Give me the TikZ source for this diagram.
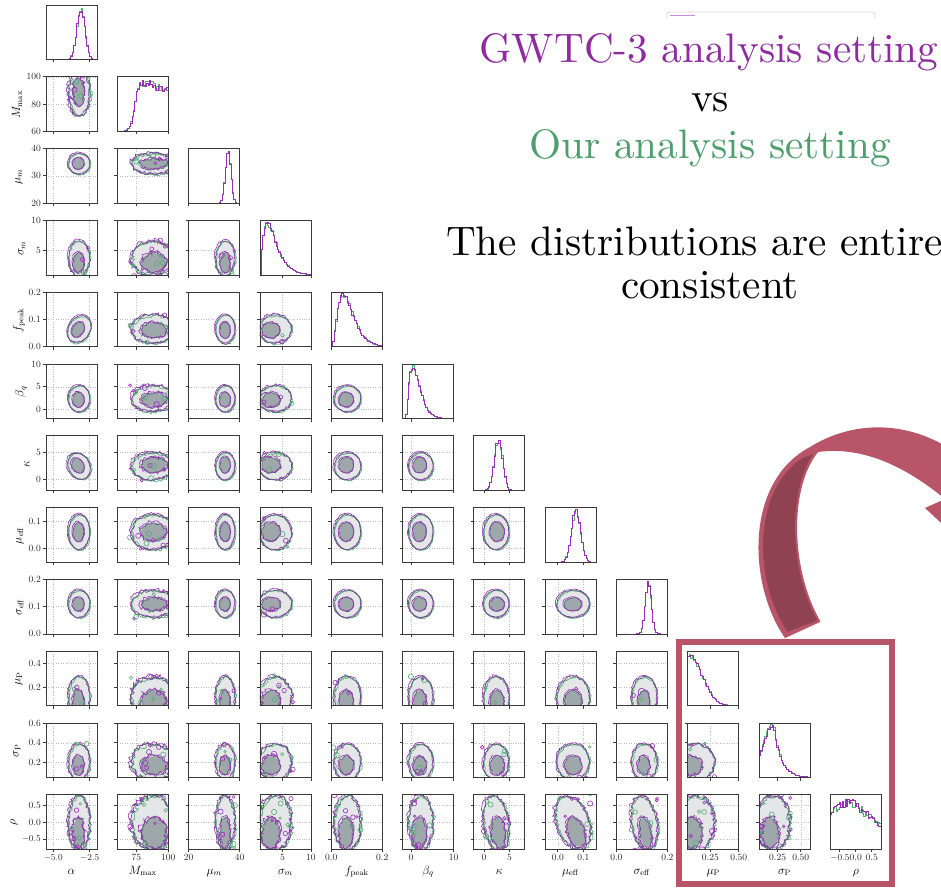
\documentclass[tikz,border=0pt]{standalone}
\usetikzlibrary{decorations.pathmorphing}
\definecolor{pur}{HTML}{9B30B8}
\definecolor{grn}{HTML}{55AD75}
\definecolor{lfill}{HTML}{E4E6E8}
\definecolor{dfill}{HTML}{9EA8AB}
\definecolor{dline}{HTML}{4F6272}
\definecolor{framec}{HTML}{3A3A3A}
\definecolor{gridc}{HTML}{BDBDBD}
\definecolor{titlep}{HTML}{8E2C9F}
\definecolor{titleg}{HTML}{4E9E6E}
\definecolor{ribbon}{HTML}{B85568}
\definecolor{ribbond}{HTML}{8F4352}
\definecolor{boxc}{HTML}{B95468}

\def\Carr{{0.65,0.70,0.72,0.30,0.32,0.36,0.44,0.55,0.55,0.15,0.28,0.48}}
\def\Warr{{0.21,0.42,0.19,0.32,0.26,0.24,0.25,0.32,0.25,0.38,0.33,0.50}}
\def\CIarr{{0.64,0.72,0.72,0.22,0.30,0.34,0.46,0.55,0.54,0.08,0.22,0.30}}
\def\WIarr{{0.11,0.25,0.10,0.18,0.14,0.13,0.14,0.17,0.12,0.20,0.17,0.28}}
\def\Narr{{0,2,0,1,0,0,0,0,0,1,1,2}}

\expandafter\def\csname ang@0@4\endcsname{-30}
\expandafter\def\csname ang@0@6\endcsname{30}
\expandafter\def\csname ang@7@11\endcsname{20}
\expandafter\def\csname ang@8@11\endcsname{10}
\expandafter\def\csname ang@6@11\endcsname{8}
\newcommand\getang[2]{\ifcsname ang@#1@#2\endcsname\edef\ang{\csname ang@#1@#2\endcsname}\else\def\ang{0}\fi}

\expandafter\def\csname xt0\endcsname{0.143/{$-5.0$},0.857/{$-2.5$}}
\expandafter\def\csname xt1\endcsname{0.375/75,1/100}
\expandafter\def\csname xt2\endcsname{0/20,1/40}
\expandafter\def\csname xt3\endcsname{0.444/5,1/10}
\expandafter\def\csname xt4\endcsname{0/0.0,1/0.2}
\expandafter\def\csname xt5\endcsname{0.167/0,1/10}
\expandafter\def\csname xt6\endcsname{0.2/0,0.7/5}
\expandafter\def\csname xt7\endcsname{0.25/0.0,0.75/0.1}
\expandafter\def\csname xt8\endcsname{0/0.0,1/0.2}
\expandafter\def\csname xt9\endcsname{0.444/0.25,1/0.50}
\expandafter\def\csname xt10\endcsname{0.364/0.25,0.818/0.50}
\expandafter\def\csname xt11\endcsname{0.1875/{$-0.5$},0.5/0.0,0.8125/0.5}
\expandafter\def\csname yt1\endcsname{0/60,0.5/80,1/100}
\expandafter\def\csname yt2\endcsname{0/20,0.5/30,1/40}
\expandafter\def\csname yt3\endcsname{0.444/5,1/10}
\expandafter\def\csname yt4\endcsname{0/0.0,0.5/0.1,1/0.2}
\expandafter\def\csname yt5\endcsname{0.167/0,0.583/5,1/10}
\expandafter\def\csname yt6\endcsname{0.2/0,0.7/5}
\expandafter\def\csname yt7\endcsname{0.25/0.0,0.75/0.1}
\expandafter\def\csname yt8\endcsname{0/0.0,0.5/0.1,1/0.2}
\expandafter\def\csname yt9\endcsname{0.333/0.2,0.778/0.4}
\expandafter\def\csname yt10\endcsname{0.273/0.2,0.636/0.4,1/0.6}
\expandafter\def\csname yt11\endcsname{0.1875/{$-0.5$},0.5/0.0,0.8125/0.5}

\tikzset{
  gridl/.style={gridc, line width=0.45pt, dotted},
  framel/.style={framec, line width=0.8pt},
  cont/.style={line width=0.65pt, decorate, decoration={random steps, segment length=2pt, amplitude=\amp pt}},
  histl/.style={line width=0.7pt},
  ticklab/.style={font=\fontsize{9.5}{10}\selectfont, inner sep=0.5pt, text=black!85},
  axlab/.style={font=\fontsize{12}{12}\selectfont, inner sep=0pt},
  bigtxt/.style={anchor=base, inner sep=0pt}
}
\newcommand\bigtext[1]{\scalebox{4.12}{\fontsize{10}{12}\selectfont #1}}

\newcommand\twod[2]{%
\pgfmathsetmacro\cx{\Carr[#1]}%
\pgfmathsetmacro\cy{\Carr[#2]}%
\pgfmathsetmacro\wx{\Warr[#1]}%
\pgfmathsetmacro\wy{\Warr[#2]}%
\pgfmathsetmacro\cix{\CIarr[#1]}%
\pgfmathsetmacro\ciy{\CIarr[#2]}%
\pgfmathsetmacro\wix{\WIarr[#1]}%
\pgfmathsetmacro\wiy{\WIarr[#2]}%
\pgfmathtruncatemacro\nz{\Narr[#1]+\Narr[#2]}%
\pgfmathsetmacro\amp{0.5+0.55*\nz}%
\pgfmathtruncatemacro\nisl{4*\nz}%
\getang{#1}{#2}%
\expandafter\let\expandafter\xtl\csname xt#1\endcsname
\expandafter\let\expandafter\ytl\csname yt#2\endcsname
\begin{scope}[shift={({46+71.3*#1},{59.5+71.8*#2})},x=51pt,y=54.5pt]
 \begin{scope}
  \clip (0,0) rectangle (1,1);
  \foreach \p/\l in \xtl {\draw[gridl] (\p,0) -- (\p,1);}
  \foreach \p/\l in \ytl {\draw[gridl] (0,\p) -- (1,\p);}
  \fill[lfill, rotate around={\ang:(\cx,\cy)}] (\cx,\cy) ellipse [x radius=\wx, y radius=\wy];
  \draw[grn, cont, rotate around={\ang:(\cx,\cy)}] ({\cx+0.015},{\cy-0.012}) ellipse [x radius=\wx, y radius=\wy];
  \draw[pur, cont, rotate around={\ang:(\cx,\cy)}] ({\cx-0.012},{\cy+0.015}) ellipse [x radius={\wx*1.03}, y radius={\wy*1.02}];
  \draw[dline, cont, rotate around={\ang:(\cx,\cy)}] (\cx,\cy) ellipse [x radius=\wx, y radius=\wy];
  \fill[dfill, rotate around={\ang:(\cx,\cy)}] (\cix,\ciy) ellipse [x radius=\wix, y radius=\wiy];
  \draw[dline, cont, rotate around={\ang:(\cx,\cy)}] (\cix,\ciy) ellipse [x radius=\wix, y radius=\wiy];
  \draw[pur, cont, rotate around={\ang:(\cx,\cy)}] ({\cix-0.012},{\ciy+0.012}) ellipse [x radius={\wix*1.05}, y radius={\wiy*1.04}];
  \ifnum\nisl>0
   \foreach \k in {1,...,\nisl}{%
     \pgfmathsetmacro\px{\cx+1.1*\wx*rand}%
     \pgfmathsetmacro\py{\cy+1.1*\wy*rand}%
     \pgfmathsetmacro\pr{1.2+1.6*rnd}%
     \ifodd\k \def\ic{pur}\else\def\ic{grn}\fi
     \draw[color=\ic, line width=0.6pt] (\px,\py) circle [radius=\pr pt];
   }%
  \fi
 \end{scope}
 \draw[framel] (0,0) rectangle (1,1);
 \foreach \p/\l in \xtl {\draw[framel] (\p,0) -- ++(0pt,-3pt);}
 \foreach \p/\l in \ytl {\draw[framel] (0,\p) -- ++(-3pt,0pt);}
 \ifnum#2=11 \foreach \p/\l in \xtl {\node[ticklab, anchor=north] at ([yshift=-4.5pt]\p,0) {\l};}\fi
 \ifnum#1=0 \foreach \p/\l in \ytl {\node[ticklab, anchor=east] at ([xshift=-4.5pt]0,\p) {\l};}\fi
\end{scope}}

\newcommand\diagp[3]{%
\expandafter\let\expandafter\xtl\csname xt#1\endcsname
\begin{scope}[shift={({46+71.3*#1},{59.5+71.8*#1})},x=51pt,y=54.5pt]
 \begin{scope}
  \clip (0,0) rectangle (1,1);
  \draw[grn, histl] plot[const plot, domain=0:1, samples=36] (\x,{min(0.97,max(0,(#2)*(1+#3*rand)))});
  \draw[pur, histl] plot[const plot, domain=0:1, samples=36] (\x,{min(0.97,max(0,(#2)*(1+#3*rand)))});
 \end{scope}
 \draw[framel] (0,0) rectangle (1,1);
 \foreach \p/\l in \xtl {\draw[framel] (\p,0) -- ++(0pt,-3pt);}
 \ifnum#1=11 \foreach \p/\l in \xtl {\node[ticklab, anchor=north] at ([yshift=-4.5pt]\p,0) {\l};}\fi
\end{scope}}

\begin{document}
\begin{tikzpicture}[x=1pt,y=-1pt]
\useasboundingbox (0,0) rectangle (941,888);
\clip (0,0) rectangle (941,888);
\fill[white] (0,0) rectangle (941,888);
\pgfmathsetseed{4242}

% off-diagonal panels
\foreach \j in {1,...,11}{%
  \pgfmathtruncatemacro\jm{\j-1}%
  \foreach \i in {0,...,\jm}{\twod{\i}{\j}}%
}

% diagonal histograms
\diagp{0}{0.93*exp(-((\x-0.67)^2)/(2*0.08^2))}{0.06}
\diagp{1}{0.95/(1+exp(-(\x-0.33)/0.045))*(1.1-0.3*\x)}{0.1}
\diagp{2}{0.93*exp(-((\x-0.76)^2)/(2*0.055^2))}{0.06}
\diagp{3}{0.95*(\x/0.13)*exp(1-\x/0.13)}{0.06}
\diagp{4}{0.95*((\x/0.22)^2)*exp(2-2*\x/0.22)}{0.06}
\diagp{5}{0.95*((max(\x-0.04,0)/0.15)^2)*exp(2-2*max(\x-0.04,0)/0.15)}{0.06}
\diagp{6}{0.93*exp(-((\x-0.47)^2)/(2*0.08^2))}{0.06}
\diagp{7}{0.93*exp(-((\x-0.59)^2)/(2*0.09^2))}{0.06}
\diagp{8}{0.93*exp(-((\x-0.61)^2)/(2*0.06^2))}{0.06}
\diagp{9}{0.95*exp(-(\x^2)/(2*0.26^2))}{0.06}
\diagp{10}{(\x<0.27)*0.95*exp(-((\x-0.27)^2)/(2*0.22^2))+(\x>=0.27)*0.95*exp(-(max(\x-0.27,0))/0.15)}{0.08}
\diagp{11}{(\x<0.36)*(0.67+0.65*\x)+(\x>=0.36)*(0.9-0.75*max(\x-0.36,0))}{0.1}

% y axis labels
\node[axlab, rotate=90] (yl1) at (17,104.75) {$M_{\mathrm{max}}$};
\node[axlab, rotate=90] (yl2) at (19,176.55) {$\mu_m$};
\node[axlab, rotate=90] (yl3) at (22,248.35) {$\sigma_m$};
\node[axlab, rotate=90] (yl4) at (19,320.15) {$f_{\mathrm{peak}}$};
\node[axlab, rotate=90] (yl5) at (21,391.95) {$\beta_q$};
\node[axlab, rotate=90] (yl6) at (27,463.75) {$\kappa$};
\node[axlab, rotate=90] (yl7) at (20,535.55) {$\mu_{\mathrm{eff}}$};
\node[axlab, rotate=90] (yl8) at (20,607.35) {$\sigma_{\mathrm{eff}}$};
\node[axlab, rotate=90] (yl9) at (19,679.15) {$\mu_{\mathrm{P}}$};
\node[axlab, rotate=90] (yl10) at (17,750.95) {$\sigma_{\mathrm{P}}$};
\node[axlab, rotate=90] (yl11) at (14,822.75) {$\rho$};

% x axis labels
\node[axlab, anchor=base] (xl0) at (71.5,874) {$\alpha$};
\node[axlab, anchor=base] (xl1) at (142.8,874) {$M_{\mathrm{max}}$};
\node[axlab, anchor=base] (xl2) at (214.1,874) {$\mu_m$};
\node[axlab, anchor=base] (xl3) at (285.4,874) {$\sigma_m$};
\node[axlab, anchor=base] (xl4) at (356.7,874) {$f_{\mathrm{peak}}$};
\node[axlab, anchor=base] (xl5) at (428.0,874) {$\beta_q$};
\node[axlab, anchor=base] (xl6) at (499.3,874) {$\kappa$};
\node[axlab, anchor=base] (xl7) at (570.6,874) {$\mu_{\mathrm{eff}}$};
\node[axlab, anchor=base] (xl8) at (641.9,874) {$\sigma_{\mathrm{eff}}$};
\node[axlab, anchor=base] (xl9) at (713.2,874) {$\mu_{\mathrm{P}}$};
\node[axlab, anchor=base] (xl10) at (784.5,874) {$\sigma_{\mathrm{P}}$};
\node[axlab, anchor=base] (xl11) at (855.8,874) {$\rho$};

% faint legend remnant
\draw[black!15, line width=0.8pt, rounded corners=2pt] (667,19) |- (875,12) -- (875,19);
\draw[pur!55, line width=1.6pt] (670,15.5) -- (695,15.5);

% titles
\node[bigtxt, text=titlep] (t1) at (709,63) {\bigtext{GWTC-3 analysis setting}};
\node[bigtxt, text=black] (t2) at (710,112) {\bigtext{vs}};
\node[bigtxt, text=titleg] (t3) at (710,158) {\bigtext{Our analysis setting}};
\node[bigtxt, text=black] (t4) at (711,255) {\bigtext{The distributions are entirely}};
\node[bigtxt, text=black] (t5) at (710,298) {\bigtext{consistent}};

% curved ribbon arrow
\fill[ribbon] (785,638) .. controls (748,585) and (744,482) .. (810,447)
   .. controls (850,422) and (905,418) .. (955,452) -- (995,470) -- (968,548)
   -- (925,508) -- (945,499) .. controls (905,466) and (862,446) .. (818,452)
   .. controls (788,490) and (790,570) .. (820,622) -- cycle;
\filldraw[fill=ribbond, draw=ribbon, line width=2pt] (787,633) .. controls (753,584) and (750,490) .. (802,457)
   -- (816,452) .. controls (788,490) and (790,570) .. (819,621) -- cycle;

% highlight box
\draw[boxc, line width=6pt] (679,642) rectangle (892,884);
\end{tikzpicture}
\end{document}
